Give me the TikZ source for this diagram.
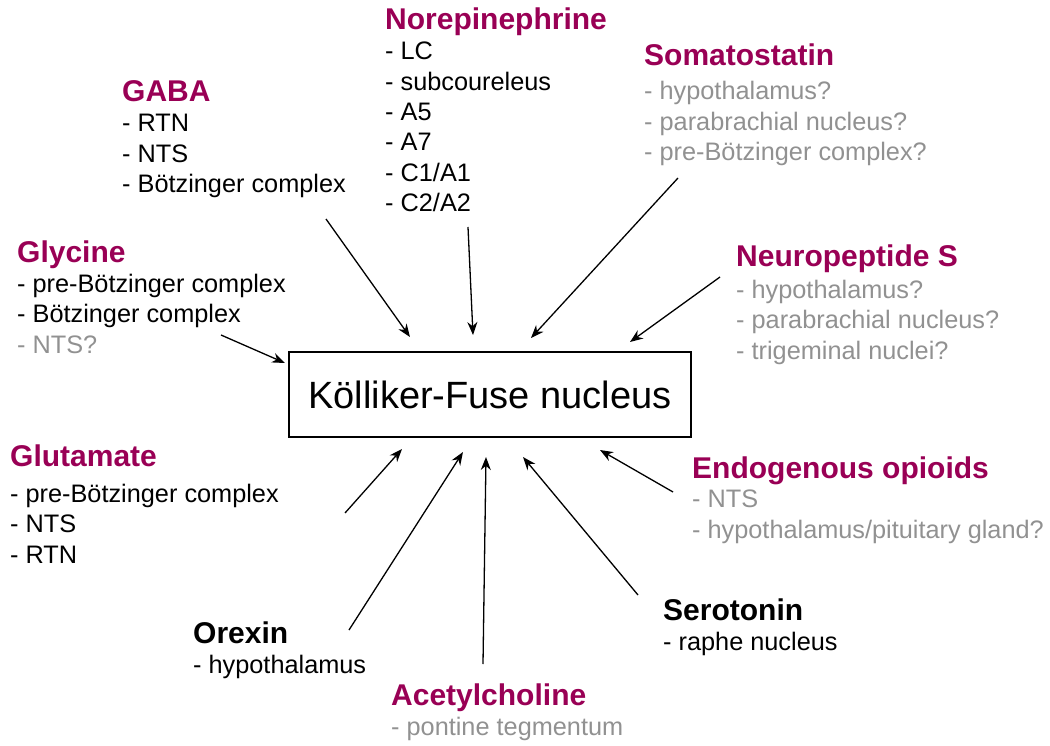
\documentclass[tikz,border=0pt]{standalone}
\usepackage{fontspec}
\setmainfont{Liberation Sans}
\usetikzlibrary{arrows.meta}
\definecolor{mag}{RGB}{153,0,85}
\definecolor{lgray}{RGB}{145,145,145}
\begin{document}
\begin{tikzpicture}[x=1pt,y=-1pt,
  head/.style={anchor=base west,inner sep=0pt,font=\fontsize{30}{36}\selectfont\bfseries,text=mag},
  items/.style={anchor=base west,inner sep=0pt,align=left,font=\fontsize{25.3}{30.5}\selectfont},
  arr/.style={-{Stealth[length=13pt,width=10pt]},line width=1.3pt}]
\useasboundingbox (0,0) rectangle (1050,746);

% central box
\node[draw,line width=2.2pt,minimum width=402pt,minimum height=85pt,inner sep=0pt,
      font=\fontsize{38}{44}\selectfont] (kf) at (490,394.5) {Kölliker-Fuse nucleus};

% (list nodes are placed by the baseline of their last line)
% GABA
\node[head] (gabaH) at (122,102) {GABA};
\node[items] (gabaL) at (122,193) {- RTN\\- NTS\\- Bötzinger complex};
% Norepinephrine
\node[head] (neH) at (385,30) {Norepinephrine};
\node[items] (neL) at (385,212) {- LC\\- subcoureleus\\- A5\\- A7\\- C1/A1\\- C2/A2};
% Somatostatin
\node[head] (soH) at (644,66) {Somatostatin};
\node[items,text=lgray] (soL) at (644,161) {- hypothalamus?\\- parabrachial nucleus?\\- pre-Bötzinger complex?};
% Neuropeptide S
\node[head] (npH) at (736,267) {Neuropeptide S};
\node[items,text=lgray] (npL) at (736,359) {- hypothalamus?\\- parabrachial nucleus?\\- trigeminal nuclei?};
% Glycine
\node[head] (glyH) at (17,262) {Glycine};
\node[items] (glyL) at (17,353) {- pre-Bötzinger complex\\- Bötzinger complex\\{\color{lgray}- NTS?}};
% Glutamate
\node[head] (gluH) at (10,466) {Glutamate};
\node[items] (gluL) at (10,563) {- pre-Bötzinger complex\\- NTS\\- RTN};
% Endogenous opioids
\node[head] (eoH) at (692,478) {Endogenous opioids};
\node[items,text=lgray] (eoL) at (692,538) {- NTS\\- hypothalamus/pituitary gland?};
% Orexin
\node[head,text=black] (orH) at (193,643) {Orexin};
\node[items] (orL) at (193,673) {- hypothalamus};
% Serotonin
\node[head,text=black] (seH) at (663,620) {Serotonin};
\node[items] (seL) at (663,650) {- raphe nucleus};
% Acetylcholine
\node[head] (acH) at (391,705) {Acetylcholine};
\node[items,text=lgray] (acL) at (391,735) {- pontine tegmentum};

% arrow end points
\coordinate (gabaS) at (326,219);   \coordinate (gabaT) at (410,337);
\coordinate (neS) at (468,227);     \coordinate (neT) at (473,335);
\coordinate (soS) at (678,178);     \coordinate (soT) at (531,338);
\coordinate (npS) at (720,277);     \coordinate (npT) at (630,342);
\coordinate (glyS) at (221,335);    \coordinate (glyT) at (285,363);
\coordinate (gluS) at (345,513);    \coordinate (gluT) at (402,449);
\coordinate (orS) at (349,630);     \coordinate (orT) at (463,452);
\coordinate (acS) at (483,664);     \coordinate (acT) at (486,457);
\coordinate (seS) at (638,595);     \coordinate (seT) at (523,457);
\coordinate (eoS) at (673,492);     \coordinate (eoT) at (600,450);

\foreach \n in {gaba,ne,so,np,gly,glu,or,ac,se,eo}
  \draw[arr] (\n S) -- (\n T);
\end{tikzpicture}
\end{document}
